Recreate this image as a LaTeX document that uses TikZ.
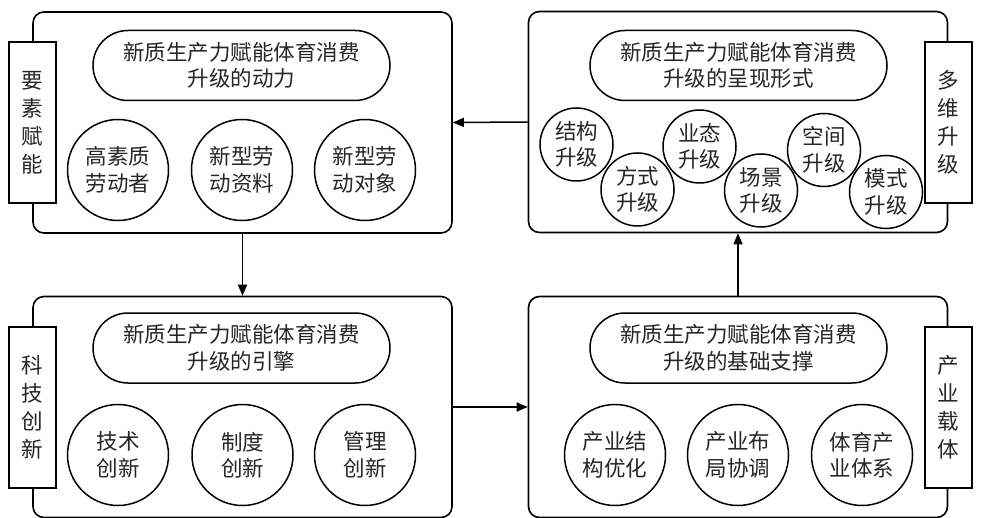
\documentclass[tikz,border=0pt]{standalone}
\usepackage{fontspec}
\setmainfont{Noto Sans CJK SC}
\usetikzlibrary{shapes.misc,arrows.meta}
\begin{document}
\begin{tikzpicture}[x=1pt,y=-1pt,
  every node/.style={font=\fontsize{21.5}{26.5}\selectfont, text=black!85, inner sep=0pt},
  bigbox/.style={draw, line width=1.6pt, rounded corners=11pt, minimum width=419pt, minimum height=221pt, fill=white},
  sidebox/.style={draw, line width=1.5pt, fill=white, minimum width=47pt, minimum height=161pt, align=center, font=\fontsize{21.5}{28}\selectfont},
  pill/.style={draw, line width=1.5pt, rounded rectangle, minimum width=297pt, minimum height=70pt, align=center},
  bigcirc/.style={draw, line width=1.5pt, circle, minimum size=101pt, align=center},
  smallcirc/.style={draw, line width=1.5pt, circle, minimum size=73pt, align=center, fill=white},
  conn/.style={line width=1.5pt, -{Triangle[length=11pt,width=9pt]}}
]
\useasboundingbox (0,0) rectangle (981,518);

% boxes
\node[bigbox] (TL) at (242.5,122.5) {};
\node[bigbox] (TR) at (738,122) {};
\node[bigbox] (BL) at (242.5,407) {};
\node[bigbox] (BR) at (738,407) {};

% side labels
\node[sidebox] (sTL) at (32.5,122.5) {要\\素\\赋\\能};
\node[sidebox] (sTR) at (948.5,122.5) {多\\维\\升\\级};
\node[sidebox] (sBL) at (32.5,407.5) {科\\技\\创\\新};
\node[sidebox] (sBR) at (948.5,407.5) {产\\业\\载\\体};

% pills
\node[pill] (pTL) at (241.5,65.5) {新质生产力赋能体育消费\\升级的动力};
\node[pill] (pTR) at (738.5,65.5) {新质生产力赋能体育消费\\升级的呈现形式};
\node[pill] (pBL) at (241.5,348) {新质生产力赋能体育消费\\升级的引擎};
\node[pill] (pBR) at (738.5,348) {新质生产力赋能体育消费\\升级的基础支撑};

% top-left circles
\node[bigcirc] (c1) at (118,170) {高素质\\劳动者};
\node[bigcirc] (c2) at (242,170) {新型劳\\动资料};
\node[bigcirc] (c3) at (365,170) {新型劳\\动对象};

% top-right small circles
\node[smallcirc] (u1) at (576.5,144.5) {结构\\升级};
\node[smallcirc] (u2) at (637.5,189.5) {方式\\升级};
\node[smallcirc] (u3) at (699.5,146.5) {业态\\升级};
\node[smallcirc] (u4) at (761,190.5) {场景\\升级};
\node[smallcirc] (u5) at (824,150) {空间\\升级};
\node[smallcirc] (u6) at (886,192) {模式\\升级};

% bottom-left circles
\node[bigcirc] (d1) at (118,455) {技术\\创新};
\node[bigcirc] (d2) at (242.5,455) {制度\\创新};
\node[bigcirc] (d3) at (365,455) {管理\\创新};

% bottom-right circles
\node[bigcirc] (e1) at (615,455) {产业结\\构优化};
\node[bigcirc] (e2) at (738,455) {产业布\\局协调};
\node[bigcirc] (e3) at (862,455) {体育产\\业体系};

% connectors
\draw[conn] (TR.west) -- (TL.east);
\draw[conn] (TL.south) -- (BL.north);
\draw[conn] (BL.east) -- (BR.west);
\draw[conn] (BR.north) -- (TR.south);
\end{tikzpicture}
\end{document}
